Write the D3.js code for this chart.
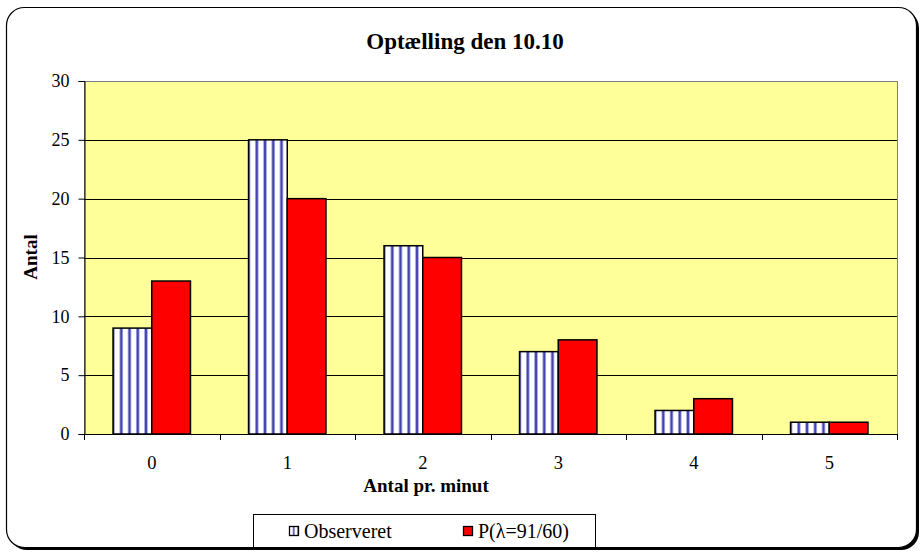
<!DOCTYPE html>
<html>
<head>
<meta charset="utf-8">
<script src="https://cdn.jsdelivr.net/npm/d3@7"></script>
<style>
  html, body { margin: 0; padding: 0; background: #fff; }
  svg { display: block; }
  svg text { font-family: "Liberation Serif", "Times New Roman", Times, "DejaVu Serif", serif; fill: #000; }
</style>
</head>
<body>
<svg id="chart" width="921" height="552"></svg>
<script>
// Counts per minute: observed vs. Poisson model
const categories = ["0", "1", "2", "3", "4", "5"];
const observed = [9, 25, 16, 7, 2, 1];
const poisson = [13, 20, 15, 8, 3, 1];
const yTicks = [0, 5, 10, 15, 20, 25, 30];
const seriesNames = ["Observeret", "P(\u03bb=91/60)"];

const FONT = "Liberation Serif, Times New Roman, Times, DejaVu Serif, serif";
const svg = d3.select("#chart");
const defs = svg.append("defs");

// Vertical stripe fill, tile anchored at a given x
function stripePattern(id, x0, step) {
  const p = defs.append("pattern")
    .attr("id", id)
    .attr("patternUnits", "userSpaceOnUse")
    .attr("x", x0).attr("y", 0)
    .attr("width", step).attr("height", 10);
  p.append("rect").attr("width", step).attr("height", 10).attr("fill", "#ffffff");
  p.append("rect").attr("x", step - 1.6).attr("width", 3.2).attr("height", 10).attr("fill", "#8484d4");
  p.append("rect").attr("x", step - 0.6).attr("width", 1.2).attr("height", 10).attr("fill", "#20209c");
  p.append("rect").attr("x", -1.6).attr("width", 3.2).attr("height", 10).attr("fill", "#8484d4");
  p.append("rect").attr("x", -0.6).attr("width", 1.2).attr("height", 10).attr("fill", "#20209c");
  return `url(#${id})`;
}

// Outer chart frame with shadow
svg.append("rect")
  .attr("x", 9).attr("y", 10).attr("width", 910).attr("height", 540)
  .attr("rx", 18).attr("fill", "#000");
svg.append("rect")
  .attr("x", 6.5).attr("y", 7.5).attr("width", 910).attr("height", 540)
  .attr("rx", 18).attr("fill", "#fff").attr("stroke", "#000").attr("stroke-width", 1.2);

const plot = { left: 84, right: 897, top: 81, bottom: 434 };

const x = d3.scaleBand().domain(categories).range([plot.left, plot.right]).paddingInner(0).paddingOuter(0);
const y = d3.scaleLinear().domain([0, 30]).range([plot.bottom, plot.top]);

// Plot background
svg.append("rect")
  .attr("x", plot.left + 0.5).attr("y", plot.top + 0.5)
  .attr("width", plot.right - plot.left).attr("height", plot.bottom - plot.top)
  .attr("fill", "#ffff99").attr("stroke", "#808080").attr("stroke-width", 1);

// Gridlines
svg.append("g").selectAll("line")
  .data(yTicks.filter(t => t > 0 && t < 30))
  .join("line")
  .attr("x1", plot.left).attr("x2", plot.right)
  .attr("y1", d => Math.round(y(d)) + 0.5).attr("y2", d => Math.round(y(d)) + 0.5)
  .attr("stroke", "#000").attr("stroke-width", 1);

// Bars
const bw = x.bandwidth() / 3.5;
const groups = svg.append("g").selectAll("g")
  .data(categories)
  .join("g");

groups.append("rect")
  .attr("x", d => x(d) + x.bandwidth() / 2 - bw).attr("width", bw)
  .attr("y", (d, i) => y(observed[i]))
  .attr("height", (d, i) => y(0) - y(observed[i]))
  .attr("fill", (d, i) => stripePattern("stripes" + i, x(d) + x.bandwidth() / 2 - bw, bw / 4.7))
  .attr("stroke", "#000").attr("stroke-width", 1.5);

groups.append("rect")
  .attr("x", d => x(d) + x.bandwidth() / 2).attr("width", bw)
  .attr("y", (d, i) => y(poisson[i]))
  .attr("height", (d, i) => y(0) - y(poisson[i]))
  .attr("fill", "#ff0000").attr("stroke", "#000").attr("stroke-width", 1.5);

// Y axis
const yAxis = svg.append("g")
  .attr("transform", `translate(${plot.left + 0.5},0)`)
  .call(d3.axisLeft(y).tickValues(yTicks).tickSize(6).tickPadding(9));
yAxis.attr("font-family", FONT);
yAxis.select(".domain").attr("stroke", "#000");
yAxis.selectAll(".tick line").attr("stroke", "#000");
yAxis.selectAll("text").attr("font-size", 18).attr("font-family", FONT);

// X axis with ticks at category boundaries
const xAxisG = svg.append("g").attr("transform", `translate(0,${plot.bottom})`);
xAxisG.append("line")
  .attr("x1", plot.left).attr("x2", plot.right)
  .attr("y1", 0.5).attr("y2", 0.5).attr("stroke", "#000");
const bounds = categories.map(c => x(c)).concat([plot.right]);
xAxisG.selectAll(".bt").data(bounds).join("line")
  .attr("x1", d => Math.round(d) + 0.5).attr("x2", d => Math.round(d) + 0.5)
  .attr("y1", 0).attr("y2", 6).attr("stroke", "#000");
xAxisG.selectAll(".lbl").data(categories).join("text")
  .attr("x", d => x(d) + x.bandwidth() / 2)
  .attr("y", 35)
  .attr("text-anchor", "middle")
  .attr("font-size", 18.5).attr("font-family", FONT)
  .text(d => d);

// Title and axis titles
svg.append("text")
  .attr("x", 465).attr("y", 49)
  .attr("text-anchor", "middle")
  .attr("font-size", 23).attr("font-weight", "bold").attr("font-family", FONT)
  .text("Optælling den 10.10");

svg.append("text")
  .attr("transform", "translate(37,257) rotate(-90)")
  .attr("text-anchor", "middle")
  .attr("font-size", 19).attr("font-weight", "bold").attr("font-family", FONT)
  .text("Antal");

svg.append("text")
  .attr("x", 426).attr("y", 492)
  .attr("text-anchor", "middle")
  .attr("font-size", 19).attr("font-weight", "bold").attr("font-family", FONT)
  .text("Antal pr. minut");

// Legend
const leg = svg.append("g");
leg.append("rect")
  .attr("x", 253.5).attr("y", 514.5).attr("width", 342).attr("height", 33)
  .attr("fill", "#fff").attr("stroke", "#000").attr("stroke-width", 1);
defs.append("pattern")
  .attr("id", "legstripes").attr("patternUnits", "userSpaceOnUse")
  .attr("x", 290).attr("width", 4.5).attr("height", 10)
  .call(p => {
    p.append("rect").attr("width", 4.5).attr("height", 10).attr("fill", "#ffffff");
    p.append("rect").attr("x", 3).attr("width", 1.8).attr("height", 10).attr("fill", "#3a3aa8");
  });
const legItems = [
  { name: seriesNames[0], fill: "url(#legstripes)", x: 289 },
  { name: seriesNames[1], fill: "#ff0000", x: 463 }
];
legItems.forEach(it => {
  leg.append("rect")
    .attr("x", it.x + 0.5).attr("y", 526.5).attr("width", 9).attr("height", 9)
    .attr("fill", it.fill).attr("stroke", "#000").attr("stroke-width", 1.3);
  leg.append("text")
    .attr("x", it.x + 15).attr("y", 538)
    .attr("font-size", 20).attr("font-family", FONT)
    .text(it.name);
});
</script>
</body>
</html>
